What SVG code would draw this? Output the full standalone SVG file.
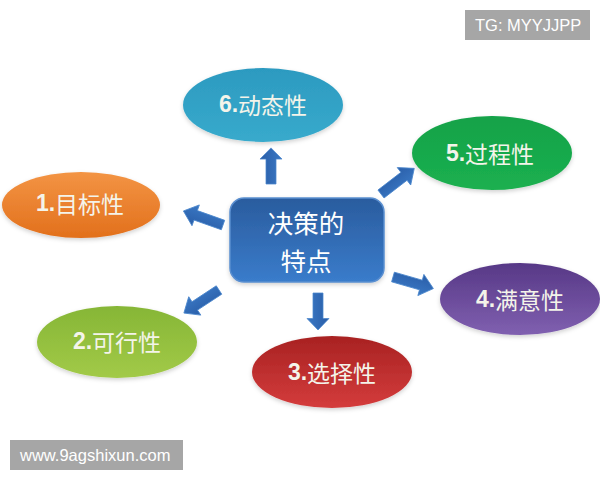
<svg xmlns="http://www.w3.org/2000/svg" xmlns:xlink="http://www.w3.org/1999/xlink" width="600" height="480" viewBox="0 0 600 480">
  <style>
    .lbl { font-family: "Noto Sans CJK SC", "Noto Sans", sans-serif; font-size: 23px; fill: #f4f4ea; text-anchor: middle; dominant-baseline: central; }
    .num { font-family: "Liberation Sans", "Noto Sans", sans-serif; font-weight: bold; }
    .ctr { font-family: "Noto Sans CJK SC", sans-serif; font-size: 25.5px; fill: #ffffff; text-anchor: middle; dominant-baseline: central; }
    .wm { font-family: "Liberation Sans", "Noto Sans", sans-serif; font-size: 16.5px; fill: #ffffff; dominant-baseline: central; }
    .arr { fill: url(#gArr); stroke: #4a86cc; stroke-width: 0.8; }
  </style>
  <defs>
    <linearGradient id="gBox" x1="0" y1="0" x2="0" y2="1">
      <stop offset="0" stop-color="#2a5c9e"/>
      <stop offset="1" stop-color="#3a7ccb"/>
    </linearGradient>
    <linearGradient id="gArr" x1="0" y1="0" x2="0" y2="1">
      <stop offset="0" stop-color="#2a5ea8"/>
      <stop offset="1" stop-color="#3a78c4"/>
    </linearGradient>
    <linearGradient id="g6" x1="0" y1="0" x2="0" y2="1">
      <stop offset="0" stop-color="#2c9ac0"/>
      <stop offset="1" stop-color="#38aacc"/>
    </linearGradient>
    <linearGradient id="g1" x1="0" y1="0" x2="0" y2="1">
      <stop offset="0" stop-color="#f39444"/>
      <stop offset="1" stop-color="#e2701c"/>
    </linearGradient>
    <linearGradient id="g2" x1="0" y1="0" x2="0" y2="1">
      <stop offset="0" stop-color="#86b636"/>
      <stop offset="1" stop-color="#a2ca48"/>
    </linearGradient>
    <linearGradient id="g3" x1="0" y1="0" x2="0" y2="1">
      <stop offset="0" stop-color="#a82222"/>
      <stop offset="1" stop-color="#d43c3c"/>
    </linearGradient>
    <linearGradient id="g4" x1="0" y1="0" x2="0" y2="1">
      <stop offset="0" stop-color="#573886"/>
      <stop offset="1" stop-color="#8060b0"/>
    </linearGradient>
    <linearGradient id="g5" x1="0" y1="0" x2="0" y2="1">
      <stop offset="0" stop-color="#12a248"/>
      <stop offset="1" stop-color="#1cb050"/>
    </linearGradient>
    <filter id="sh" x="-20%" y="-20%" width="140%" height="150%">
      <feDropShadow dx="0" dy="2" stdDeviation="2" flood-color="#000000" flood-opacity="0.18"/>
    </filter>
    <path id="arrow" d="M0,-5 L29,-5 L29,-11 L42,0 L29,11 L29,5 L0,5 Z"/>
  </defs>
  <rect width="600" height="480" fill="#ffffff"/>

  <g id="connectors">
    <use xlink:href="#arrow" class="arr" transform="translate(271,184) rotate(-90) scale(0.86,1)"/>
    <use xlink:href="#arrow" class="arr" transform="translate(318,293) rotate(90) scale(0.88,1)"/>
    <use xlink:href="#arrow" class="arr" transform="translate(223,225) rotate(199.5)"/>
    <use xlink:href="#arrow" class="arr" transform="translate(219,290) rotate(146.7)"/>
    <use xlink:href="#arrow" class="arr" transform="translate(381,194) rotate(-37.6)"/>
    <use xlink:href="#arrow" class="arr" transform="translate(393,277) rotate(16)"/>
  </g>

  <g id="center">
    <rect x="230" y="198" width="154" height="84" rx="14" fill="url(#gBox)" stroke="#5a8fd0" stroke-width="1.5" filter="url(#sh)"/>
    <text class="ctr" x="306" y="221">决策的</text>
    <text class="ctr" x="306" y="259">特点</text>
  </g>

  <g id="node6">
    <ellipse cx="263" cy="105" rx="80" ry="37" fill="url(#g6)" filter="url(#sh)"/>
    <text class="lbl" x="263" y="104"><tspan class="num">6.</tspan>动态性</text>
  </g>
  <g id="node1">
    <ellipse cx="81" cy="205" rx="79" ry="33" fill="url(#g1)" filter="url(#sh)"/>
    <text class="lbl" x="80" y="203"><tspan class="num">1.</tspan>目标性</text>
  </g>
  <g id="node2">
    <ellipse cx="117" cy="342" rx="80" ry="36" fill="url(#g2)" filter="url(#sh)"/>
    <text class="lbl" x="117" y="341"><tspan class="num">2.</tspan>可行性</text>
  </g>
  <g id="node3">
    <ellipse cx="332" cy="372" rx="80" ry="36" fill="url(#g3)" filter="url(#sh)"/>
    <text class="lbl" x="332" y="372"><tspan class="num">3.</tspan>选择性</text>
  </g>
  <g id="node4">
    <ellipse cx="520" cy="299" rx="80" ry="36" fill="url(#g4)" filter="url(#sh)"/>
    <text class="lbl" x="520" y="299"><tspan class="num">4.</tspan>满意性</text>
  </g>
  <g id="node5">
    <ellipse cx="492" cy="153" rx="80" ry="37" fill="url(#g5)" filter="url(#sh)"/>
    <text class="lbl" x="490" y="153"><tspan class="num">5.</tspan>过程性</text>
  </g>

  <g id="watermark-tg">
    <rect x="465" y="10" width="125" height="30" fill="#a6a6a6"/>
    <text class="wm" x="475" y="25">TG: MYYJJPP</text>
  </g>
  <g id="watermark-www">
    <rect x="10" y="440" width="173" height="30" fill="#a6a6a6"/>
    <text class="wm" x="20" y="455">www.9agshixun.com</text>
  </g>
</svg>
